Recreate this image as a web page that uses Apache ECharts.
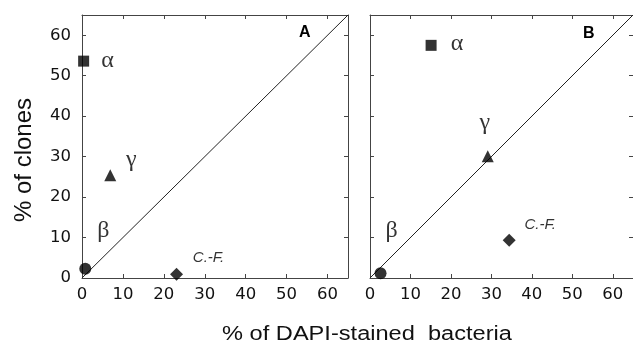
<!DOCTYPE html>
<html><head><meta charset="utf-8">
<script src="https://cdn.jsdelivr.net/npm/echarts@6/dist/echarts.min.js"></script>
<style>html,body{margin:0;padding:0;background:#fff}#c{width:633px;height:343px}</style>
</head><body><div id="c"></div>
<script>
// Data
const groups = ['α', 'β', 'γ', 'C.-F.'];
const panelA_x = [0.4, 0.8, 6.9, 23.1];
const panelA_y = [53.6, 2.3, 25.4, 0.9];
const panelB_x = [15.1, 2.6, 29.1, 34.4];
const panelB_y = [57.5, 1.2, 30.1, 9.3];
const diagonal = [0, 65];
const tickValues = [0, 10, 20, 30, 40, 50, 60];
const panelNames = ['A', 'B'];

const symbols = {'α':'rect','β':'circle','γ':'triangle','C.-F.':'diamond'};
const sizes = {'α':11,'β':12,'γ':12,'C.-F.':13};
const labelOffA = {'α':[24,0],'β':[18,-38],'γ':[21,-16],'C.-F.':[32,-17]};
const labelOffB = {'α':[26,-2],'β':[11,-42],'γ':[-3,-34],'C.-F.':[31,-16]};

const ff = '"Liberation Sans", Arial, sans-serif';
const tickFont = '"DejaVu Sans", sans-serif';
const axisCol = '#444';

function pts(xs, ys, offs) {
  return groups.map((g, i) => ({
    value: [xs[i], ys[i]],
    symbol: symbols[g],
    symbolSize: sizes[g],
    label: {
      show: true, position: 'inside', offset: offs[g], formatter: g,
      color: '#000',
      fontFamily: g === 'C.-F.' ? ff : '"Liberation Serif", "DejaVu Serif", serif',
      fontStyle: g === 'C.-F.' ? 'italic' : 'normal',
      fontSize: g === 'C.-F.' ? 15 : 24
    }
  }));
}

const grids = [
  {left: 82, top: 15, width: 266, height: 263},
  {left: 370, top: 15, width: 266, height: 263}
];

function xAx(gi, pos, labels) {
  return {
    type: 'value', gridIndex: gi, position: pos, min: 0, max: 65, interval: 10,
    axisLine: {show: true, onZero: false, lineStyle: {color: axisCol, width: 1}},
    axisTick: {show: true, inside: true, length: 4, lineStyle: {color: axisCol},
      customValues: tickValues},
    axisLabel: {show: labels, color: '#111', fontSize: 16.5, fontFamily: tickFont, margin: 8,
      customValues: tickValues},
    splitLine: {show: false}
  };
}
function yAx(gi, pos, labels) {
  return {
    type: 'value', gridIndex: gi, position: pos, min: 0, max: 65, interval: 10,
    axisLine: {show: true, onZero: false, lineStyle: {color: axisCol, width: 1}},
    axisTick: {show: true, inside: true, length: 4, lineStyle: {color: axisCol},
      customValues: tickValues},
    axisLabel: {show: labels, color: '#111', fontSize: 16.5, fontFamily: tickFont, margin: 11,
      customValues: tickValues},
    splitLine: {show: false}
  };
}

const option = {
  animation: false,
  backgroundColor: '#fff',
  grid: grids,
  xAxis: [xAx(0,'bottom',true), xAx(0,'top',false), xAx(1,'bottom',true), xAx(1,'top',false)],
  yAxis: [yAx(0,'left',true), yAx(0,'right',false), yAx(1,'left',false), yAx(1,'right',false)],
  graphic: [
    {type:'text', x: 299, y: 25, style:{text: panelNames[0], font: 'bold 16px ' + ff, fill:'#000'}},
    {type:'text', x: 583, y: 26, style:{text: panelNames[1], font: 'bold 16px ' + ff, fill:'#000'}},
    {type:'text', x: 367, y: 334, scaleX: 1.18,
      style:{text: '% of DAPI-stained  bacteria', font: '20px ' + ff, fill:'#111', align:'center', verticalAlign:'middle'}},
    {type:'text', x: 24, y: 160, rotation: Math.PI/2,
      style:{text: '% of clones', font: '24px ' + ff, fill:'#111', align:'center', verticalAlign:'middle'}}
  ],
  series: [
    {type:'line', xAxisIndex:0, yAxisIndex:0, data: diagonal.map(v=>[v,v]), symbol:'none',
      lineStyle:{color:'#222', width:1}, z:1},
    {type:'line', xAxisIndex:2, yAxisIndex:2, data: diagonal.map(v=>[v,v]), symbol:'none',
      lineStyle:{color:'#222', width:1}, z:1},
    {type:'scatter', xAxisIndex:0, yAxisIndex:0, data: pts(panelA_x, panelA_y, labelOffA),
      itemStyle:{color:'#000'}, z:3},
    {type:'scatter', xAxisIndex:2, yAxisIndex:2, data: pts(panelB_x, panelB_y, labelOffB),
      itemStyle:{color:'#000'}, z:3}
  ]
};
const chart = echarts.init(document.getElementById('c'), null, {renderer:'canvas'});
chart.setOption(option);
</script></body></html>
